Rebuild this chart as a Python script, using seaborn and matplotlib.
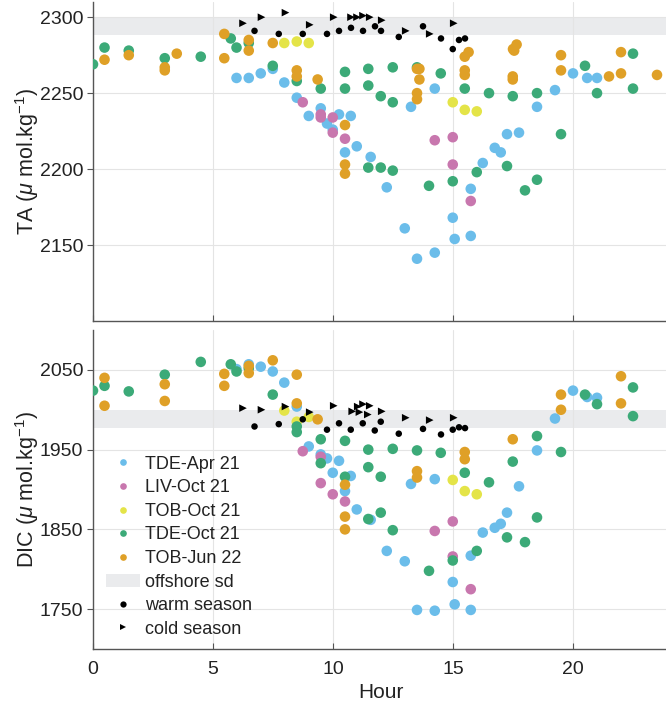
import numpy as np
import pandas as pd
import seaborn as sns
import matplotlib
matplotlib.use("Agg")
import matplotlib.pyplot as plt
from matplotlib.patches import Patch
from matplotlib.lines import Line2D

# ---------------- data ----------------
series_names = ["TDE-Apr 21", "LIV-Oct 21", "TOB-Oct 21", "TDE-Oct 21", "TOB-Jun 22"]
series_colors = ["#6BBDEA", "#C877AE", "#E4E448", "#3CAA78", "#DFA027"]

# TA panel
ta_apr21_h = [5.98, 6.49, 6.99, 7.49, 7.97, 8.49, 8.99, 9.49, 9.75, 9.99, 10.25, 10.5, 10.74, 10.99, 11.57,
              12.24, 12.99, 13.25, 13.5, 14.24, 14.24, 14.99, 15.07, 15.74, 15.74, 16.24, 16.74, 16.99,
              17.25, 17.75, 18.5, 19.25, 20.0, 20.59, 21.0]
ta_apr21_v = [2260, 2260, 2263, 2266, 2257, 2247, 2235, 2240, 2230, 2226, 2236, 2211, 2235, 2215, 2208,
              2188, 2161, 2241, 2141, 2253, 2145, 2168, 2154, 2187, 2156, 2204, 2214, 2211,
              2223, 2224, 2241, 2252, 2263, 2260, 2260]
ta_liv21_h = [8.74, 9.49, 9.49, 9.99, 9.99, 10.5, 14.24, 14.99, 14.99, 15.74]
ta_liv21_v = [2244, 2236, 2234, 2234, 2224, 2220, 2219, 2221, 2203, 2179]
ta_tob21_h = [7.97, 8.49, 8.99, 14.99, 15.49, 15.99]
ta_tob21_v = [2283, 2284, 2283, 2244, 2239, 2238]
ta_tde21_h = [0, 0.48, 1.49, 2.99, 4.49, 5.74, 5.98, 6.49, 7.49, 8.49, 9.49, 10.5, 10.5, 11.47, 11.47, 11.47,
              11.99, 11.99, 12.49, 12.49, 12.49, 13.5, 14.0, 14.49, 14.99, 15.49, 15.99, 16.5, 17.25, 17.49,
              18.0, 18.5, 18.5, 19.5, 20.5, 21.0, 22.5, 22.5]
ta_tde21_v = [2269, 2280, 2278, 2273, 2274, 2286, 2280, 2283, 2268, 2258, 2253, 2264, 2253, 2266, 2255, 2201,
              2248, 2201, 2267, 2244, 2199, 2267, 2189, 2263, 2192, 2253, 2198, 2250, 2202, 2248,
              2186, 2193, 2250, 2223, 2268, 2250, 2276, 2253]
ta_tob22_h = [0.48, 1.49, 2.99, 2.99, 3.49, 5.47, 5.47, 6.49, 6.49, 7.49, 8.49, 8.49, 9.36, 10.5, 10.5, 10.5,
              13.5, 13.6, 13.6, 13.5, 13.5, 15.49, 15.49, 15.49, 15.65, 17.5, 17.65, 17.55, 17.49, 17.49,
              19.5, 19.5, 21.5, 22.0, 22.0, 23.5]
ta_tob22_v = [2272, 2275, 2267, 2265, 2276, 2273, 2289, 2285, 2278, 2283, 2265, 2261, 2259, 2229, 2203, 2197,
              2266, 2266, 2259, 2250, 2246, 2265, 2262, 2274, 2277, 2279, 2282, 2278, 2261, 2259,
              2275, 2265, 2261, 2277, 2263, 2262]
ta_warm_h = [6.73, 7.74, 8.74, 9.75, 10.25, 10.75, 11.25, 11.75, 12.0, 12.74, 13.75, 14.5, 14.99, 15.25, 15.5]
ta_warm_v = [2291, 2289, 2289, 2289, 2291, 2293, 2291, 2294, 2291, 2287, 2294, 2286, 2279, 2285, 2286]
ta_cold_h = [6.25, 7.02, 8.02, 9.03, 10.03, 10.75, 11.0, 11.25, 11.53, 12.03, 13.03, 14.03, 15.03]
ta_cold_v = [2296, 2300, 2303, 2295, 2300, 2300, 2300, 2301, 2300, 2298, 2291, 2289, 2296]
ta_offshore = [2288, 2300]

# DIC panel
dic_apr21_h = [5.98, 6.49, 6.99, 7.49, 7.97, 8.49, 8.99, 9.49, 9.75, 9.99, 10.25, 10.5, 10.74, 10.99, 11.57,
               12.24, 12.99, 13.25, 13.5, 14.24, 14.24, 14.99, 15.07, 15.74, 15.74, 16.24, 16.74, 16.99,
               17.25, 17.75, 18.5, 19.25, 20.0, 20.59, 21.0]
dic_apr21_v = [2051, 2057, 2054, 2048, 2034, 2004, 1954, 1944, 1939, 1921, 1936, 1898, 1917, 1875, 1862,
               1823, 1810, 1907, 1749, 1913, 1748, 1784, 1756, 1817, 1749, 1846, 1852, 1857,
               1871, 1904, 1949, 1989, 2024, 2016, 2015]
dic_liv21_h = [8.74, 9.49, 9.49, 9.99, 10.5, 14.24, 14.99, 14.99, 15.74]
dic_liv21_v = [1948, 1941, 1908, 1894, 1885, 1848, 1860, 1816, 1775]
dic_tob21_h = [7.97, 8.49, 8.99, 14.99, 15.49, 15.99]
dic_tob21_v = [1999, 1985, 1991, 1912, 1898, 1894]
dic_tde21_h = [0, 0.48, 1.49, 2.99, 4.49, 5.74, 5.98, 6.49, 7.49, 8.49, 8.49, 9.49, 9.49, 10.5, 10.5, 11.47,
               11.47, 11.47, 11.99, 11.99, 12.49, 12.49, 13.5, 14.0, 14.49, 14.99, 15.49, 15.99, 16.5,
               17.25, 17.49, 18.0, 18.5, 18.5, 19.5, 20.5, 21.0, 22.5, 22.5]
dic_tde21_v = [2024, 2030, 2023, 2044, 2060, 2057, 2048, 2052, 2019, 1979, 1972, 1963, 1933, 1961, 1916, 1950,
               1928, 1863, 1916, 1871, 1951, 1849, 1949, 1798, 1946, 1811, 1921, 1823, 1909,
               1840, 1935, 1834, 1967, 1865, 1947, 2019, 2007, 2028, 1992]
dic_tob22_h = [0.48, 0.48, 2.99, 2.99, 5.47, 5.47, 6.49, 6.49, 7.49, 8.49, 8.49, 9.36, 10.5, 10.5, 10.5,
               13.5, 13.5, 15.49, 15.49, 17.49, 19.5, 19.5, 22.0, 22.0]
dic_tob22_v = [2040, 2005, 2032, 2011, 2045, 2030, 2055, 2046, 2062, 2044, 2008, 1988, 1906, 1866, 1850,
               1923, 1915, 1947, 1938, 1963, 2019, 2000, 2042, 2008]
dic_warm_h = [6.73, 7.74, 8.74, 9.75, 10.25, 10.74, 11.24, 11.74, 11.99, 12.74, 13.75, 14.5, 14.99, 15.25, 15.5]
dic_warm_v = [1979, 1982, 1988, 1975, 1983, 1975, 1983, 1974, 1985, 1970, 1976, 1969, 1975, 1978, 1977]
dic_cold_h = [6.25, 7.02, 8.02, 9.03, 10.03, 10.8, 11.03, 11.1, 11.25, 11.53, 11.45, 12.03, 13.03, 14.03, 15.03]
dic_cold_v = [2002, 2000, 2004, 1997, 2005, 1998, 2004, 1997, 2007, 2005, 1994, 1998, 1990, 1987, 1990]
dic_offshore = [1977, 2000]

x_ticks = [0, 5, 10, 15, 20]
ta_ticks = [2150, 2200, 2250, 2300]
dic_ticks = [1750, 1850, 1950, 2050]

# ---------------- style ----------------
sns.set_theme(style="white")
plt.rcParams["font.family"] = ["Liberation Sans", "DejaVu Sans"]
plt.rcParams["mathtext.fontset"] = "custom"
plt.rcParams["mathtext.rm"] = "Liberation Sans"
plt.rcParams["mathtext.it"] = "Liberation Sans:italic"
plt.rcParams["mathtext.default"] = "regular"

fig = plt.figure(figsize=(6.66, 7.05), dpi=100)
W, H = 666, 705
ax_top = fig.add_axes([93 / W, 1 - 321 / H, 576 / W, 319 / H])
ax_bot = fig.add_axes([93 / W, 1 - 649 / H, 576 / W, 319 / H])

BAND = "#EAEBED"
TXT = "#222222"


def panel(ax, groups, warm, cold, band, ylim, yticks, ylabel, show_x):
    ax.axhspan(band[0], band[1], color=BAND, lw=0, zorder=0.5)
    for (h, v), name, col in zip(groups, series_names, series_colors):
        df = pd.DataFrame({"Hour": h, "val": v})
        sns.scatterplot(data=df, x="Hour", y="val", ax=ax, color=col, s=58,
                        edgecolor="none", linewidth=0, zorder=3)
    dfw = pd.DataFrame({"Hour": warm[0], "val": warm[1]})
    sns.scatterplot(data=dfw, x="Hour", y="val", ax=ax, color="black", s=22,
                    edgecolor="none", linewidth=0, zorder=4)
    dfc = pd.DataFrame({"Hour": cold[0], "val": cold[1]})
    sns.scatterplot(data=dfc, x="Hour", y="val", ax=ax, color="black", s=30, marker=">",
                    edgecolor="none", linewidth=0, zorder=4)
    ax.set_xlim(0, 24)
    ax.set_ylim(*ylim)
    ax.set_xticks(x_ticks)
    ax.set_yticks(yticks)
    ax.grid(True, color="#E4E4E4", lw=0.8)
    ax.set_axisbelow(True)
    for s in ["top", "right"]:
        ax.spines[s].set_visible(False)
    for s in ["left", "bottom"]:
        ax.spines[s].set_color("#555555")
        ax.spines[s].set_linewidth(1.0)
    ax.tick_params(axis="y", direction="out", length=4.5, width=0.8, color="#555555",
                   labelsize=14, labelcolor=TXT, left=True, pad=2.5)
    ax.tick_params(axis="x", direction="in", length=4.5, width=0.8, color="#555555",
                   labelsize=14, labelcolor=TXT, bottom=True, pad=9)
    ax.set_ylabel(ylabel, fontsize=15.5, color=TXT, labelpad=-1)
    if show_x:
        ax.set_xlabel("Hour", fontsize=15, color=TXT, labelpad=3)
    else:
        ax.set_xlabel("")
        ax.tick_params(axis="x", labelbottom=False)
    ax.set_facecolor("white")


panel(ax_top,
      [(ta_apr21_h, ta_apr21_v), (ta_liv21_h, ta_liv21_v), (ta_tob21_h, ta_tob21_v),
       (ta_tde21_h, ta_tde21_v), (ta_tob22_h, ta_tob22_v)],
      (ta_warm_h, ta_warm_v), (ta_cold_h, ta_cold_v), ta_offshore,
      (2100, 2310), ta_ticks, r"TA ($\mathit{\mu}$ mol.kg$^{-1}$)", False)
panel(ax_bot,
      [(dic_apr21_h, dic_apr21_v), (dic_liv21_h, dic_liv21_v), (dic_tob21_h, dic_tob21_v),
       (dic_tde21_h, dic_tde21_v), (dic_tob22_h, dic_tob22_v)],
      (dic_warm_h, dic_warm_v), (dic_cold_h, dic_cold_v), dic_offshore,
      (1700, 2100), dic_ticks, r"DIC ($\mathit{\mu}$ mol.kg$^{-1}$)", True)

handles = [Line2D([], [], ls="none", marker="o", markersize=4.8, color=c, markeredgewidth=0)
           for c in series_colors]
handles.append(Patch(facecolor=BAND, edgecolor="none"))
handles.append(Line2D([], [], ls="none", marker="o", markersize=4.5, color="black", markeredgewidth=0))
handles.append(Line2D([], [], ls="none", marker=">", markersize=5, color="black", markeredgewidth=0))
labels = series_names + ["offshore sd", "warm season", "cold season"]
ax_bot.legend(handles, labels, loc="upper left", bbox_to_anchor=(13 / 576, 0.606), frameon=False,
              fontsize=13, handlelength=1.9, handletextpad=0.25, labelspacing=0.365,
              borderaxespad=0, borderpad=0, labelcolor=TXT)

fig.savefig("out.png", dpi=100)
